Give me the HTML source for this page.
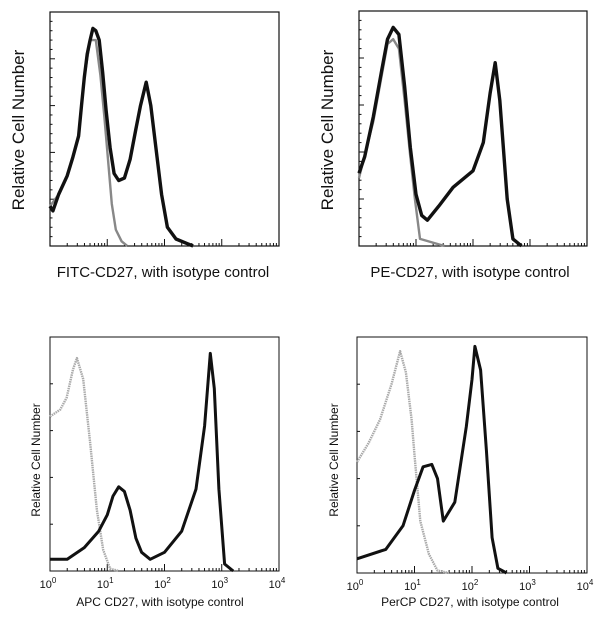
<!DOCTYPE html>
<html><head><meta charset="utf-8"><style>
body{margin:0;background:#fff;}
svg{display:block;font-family:"Liberation Sans",Arial,sans-serif;}
</style></head><body>
<svg id="c" width="600" height="620"></svg>
<script>
// Data: [log10 intensity (decades), relative height 0..1]
const tlBlack=[[0,0.17],[0.05,0.15],[0.15,0.22],[0.3,0.3],[0.4,0.38],[0.5,0.47],[0.55,0.6],[0.6,0.72],[0.65,0.82],[0.7,0.88],[0.75,0.93],[0.8,0.92],[0.86,0.88],[0.92,0.74],[0.98,0.58],[1.05,0.42],[1.12,0.31],[1.2,0.28],[1.3,0.29],[1.4,0.37],[1.5,0.5],[1.58,0.6],[1.68,0.7],[1.76,0.6],[1.85,0.42],[1.95,0.22],[2.05,0.08],[2.2,0.03],[2.4,0.01],[2.5,0]];
const tlGray=[[0,0.17],[0.15,0.22],[0.3,0.3],[0.5,0.47],[0.6,0.72],[0.7,0.88],[0.8,0.88],[0.88,0.73],[0.95,0.55],[1.02,0.35],[1.08,0.18],[1.15,0.07],[1.25,0.02],[1.35,0]];
const trBlack=[[0,0.31],[0.1,0.38],[0.25,0.55],[0.4,0.75],[0.5,0.88],[0.6,0.93],[0.7,0.9],[0.8,0.68],[0.9,0.42],[1.0,0.22],[1.1,0.13],[1.2,0.11],[1.4,0.17],[1.65,0.25],[1.85,0.29],[2.0,0.32],[2.18,0.44],[2.3,0.65],[2.39,0.78],[2.47,0.62],[2.6,0.2],[2.7,0.03],[2.85,0]];
const trGray=[[0,0.29],[0.25,0.53],[0.5,0.86],[0.6,0.88],[0.7,0.84],[0.8,0.62],[0.9,0.38],[0.98,0.2],[1.07,0.03],[1.5,0]];
const blBlack=[[0,0.05],[0.3,0.05],[0.6,0.1],[0.85,0.17],[1.0,0.24],[1.1,0.32],[1.2,0.36],[1.3,0.34],[1.4,0.26],[1.5,0.14],[1.6,0.08],[1.75,0.05],[2.0,0.08],[2.3,0.17],[2.55,0.35],[2.7,0.62],[2.8,0.93],[2.87,0.78],[2.95,0.35],[3.05,0.03],[3.2,0]];
const blGray=[[0,0.66],[0.18,0.69],[0.29,0.74],[0.4,0.86],[0.47,0.91],[0.58,0.82],[0.7,0.55],[0.82,0.26],[0.93,0.09],[1.05,0.01],[1.2,0]];
const brBlack=[[0,0.06],[0.5,0.1],[0.8,0.2],[1.0,0.35],[1.15,0.45],[1.3,0.46],[1.4,0.4],[1.5,0.22],[1.7,0.3],[1.9,0.62],[2.0,0.82],[2.05,0.96],[2.15,0.86],[2.25,0.52],[2.35,0.15],[2.45,0.02],[2.6,0]];
const brGray=[[0,0.47],[0.2,0.55],[0.4,0.65],[0.6,0.8],[0.75,0.94],[0.85,0.85],[0.95,0.65],[1.0,0.5],[1.1,0.22],[1.25,0.08],[1.4,0.01],[1.6,0]];
const decadeLabels=["0","1","2","3","4"];

const NS="http://www.w3.org/2000/svg";
const svg=document.getElementById('c');
function mk(t,a,p){const e=document.createElementNS(NS,t);for(const k in a)e.setAttribute(k,a[k]);(p||svg).appendChild(e);return e;}

const panels=[
 {key:'fitc',x0:50,x1:279,y0:12,y1:246,black:tlBlack,gray:tlGray,title:'FITC-CD27, with isotype control',big:true,tx:163,ly:130,lx:24},
 {key:'pe',x0:359,x1:587,y0:11,y1:246,black:trBlack,gray:trGray,title:'PE-CD27, with isotype control',big:true,tx:470,ly:130,lx:333},
 {key:'apc',x0:50,x1:279,y0:337,y1:571,black:blBlack,gray:blGray,title:'APC CD27, with isotype control',big:false,tx:160,ly:460,lx:40},
 {key:'percp',x0:357,x1:587,y0:337,y1:573,black:brBlack,gray:brGray,title:'PerCP CD27, with isotype control',big:false,tx:470,ly:460,lx:338}
];
panels.forEach(p=>{
 const g=mk('g',{});
 
 
 const xs=d=>p.x0+d/4*(p.x1-p.x0);
 const ys=v=>p.y1-v*(p.y1-p.y0);
 const box=mk('rect',{x:p.x0,y:p.y0,width:p.x1-p.x0,height:p.y1-p.y0,fill:'none',stroke:'#111','stroke-width':p.big?1.2:1},g);
 
 
 for(let d=0;d<4;d++){for(let m=1;m<10;m++){const x=xs(d+Math.log10(m));const L=m==1?7:3;
  mk('line',{x1:x,x2:x,y1:p.y1,y2:p.y1-L,stroke:'#111','stroke-width':1},g);}}
 mk('line',{x1:p.x1,x2:p.x1,y1:p.y1,y2:p.y1-7,stroke:'#111'},g);
 const ny=p.big?25:5;
 for(let i=1;i<ny;i++){const y=ys(i/ny);const L=p.big?(i%5==0?5:2.5):3;
  mk('line',{x1:p.x0,x2:p.x0+L,y1:y,y2:y,stroke:'#111','stroke-width':1},g);}
 const pts=a=>a.map(q=>xs(q[0]).toFixed(1)+','+ys(q[1]).toFixed(1)).join(' ');
 const gl=mk('polyline',{points:pts(p.gray),fill:'none',stroke:p.big?'#888':'#aaa','stroke-width':p.big?2.4:2.4,'stroke-dasharray':p.big?'':'1.5 0.8','stroke-linejoin':'round'},g);
 
 
 const bl=mk('polyline',{points:pts(p.black),fill:'none',stroke:'#111','stroke-width':p.big?3.4:3,'stroke-linejoin':'round'},g);
 
 
 const yl=mk('text',{x:p.lx,y:p.ly,'font-size':p.big?17:12,'text-anchor':'middle',fill:'#111',transform:`rotate(-90 ${p.lx} ${p.ly})`},g);
 yl.textContent='Relative Cell Number';
 
 
 const xt=mk('text',{x:p.tx,y:p.big?277:606,'font-size':p.big?15:12,'text-anchor':'middle',fill:'#111'},g);
 xt.textContent=p.title;
 
 
 if(!p.big){decadeLabels.forEach((s,i)=>{
  const t=mk('text',{x:xs(i)-2,y:p.y1+17,'font-size':11,'text-anchor':'middle',fill:'#111'},g);
  t.innerHTML='10<tspan dy="-5" font-size="8">'+s+'</tspan>';
  
  
 });}
});
</script>
</body></html>
